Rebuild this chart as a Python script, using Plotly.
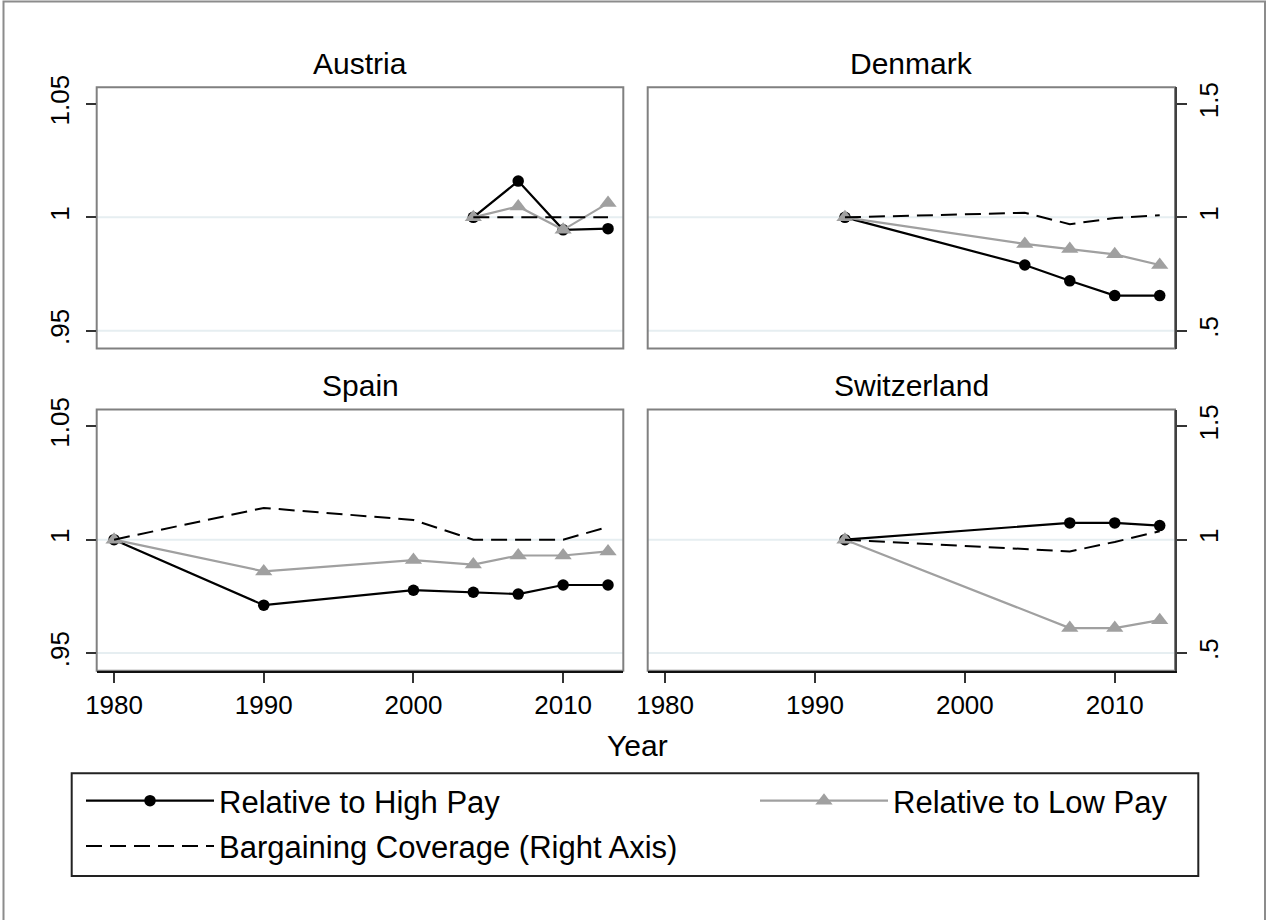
import plotly.graph_objects as go

# ---------------- data ----------------
countries = ["Austria", "Denmark", "Spain", "Switzerland"]

years_austria = [2004, 2007, 2010, 2013]
high_austria = [1.0, 1.016, 0.9945, 0.995]
low_austria = [1.0, 1.0048, 0.9945, 1.0063]
barg_austria = [1.0, 1.0, 1.0, 1.0]

years_denmark = [1992, 2004, 2007, 2010, 2013]
high_denmark = [1.0, 0.979, 0.972, 0.9655, 0.9655]
low_denmark = [1.0, 0.9883, 0.986, 0.9837, 0.979]
barg_denmark = [1.0, 1.02, 0.97, 0.997, 1.009]

years_spain = [1980, 1990, 2000, 2004, 2007, 2010, 2013]
high_spain = [1.0, 0.9711, 0.9777, 0.9768, 0.976, 0.980, 0.980]
low_spain = [1.0, 0.986, 0.991, 0.989, 0.993, 0.993, 0.9948]
barg_spain = [1.0, 1.14, 1.087, 1.0, 1.0, 1.0, 1.056]

years_switzerland = [1992, 2007, 2010, 2013]
high_switzerland = [1.0, 1.0074, 1.0074, 1.0062]
low_switzerland = [1.0, 0.961, 0.961, 0.9645]
barg_switzerland = [1.0, 0.948, 0.99, 1.037]

x_ticks = [1980, 1990, 2000, 2010]
left_ticks = [0.95, 1.0, 1.05]
left_ticktext = [".95", "1", "1.05"]
right_ticks = [0.5, 1.0, 1.5]
right_ticktext = [".5", "1", "1.5"]
grid_levels = [0.95, 1.0]

series_names = ["Relative to High Pay", "Relative to Low Pay",
                "Bargaining Coverage (Right Axis)"]

panel_data = {
    "Austria": (years_austria, high_austria, low_austria, barg_austria),
    "Denmark": (years_denmark, high_denmark, low_denmark, barg_denmark),
    "Spain": (years_spain, high_spain, low_spain, barg_spain),
    "Switzerland": (years_switzerland, high_switzerland, low_switzerland, barg_switzerland),
}

# ---------------- layout geometry / style ----------------
W, H = 1267, 920
FONT = "Liberation Sans, Arial, Helvetica, sans-serif"
col_dom = [[96.7 / W, 623.3 / W], [647.7 / W, 1175 / W]]
row_dom = [[1 - 348.5 / H, 1 - 87.3 / H], [1 - 670.8 / H, 1 - 409.6 / H]]
x_range = [1978.84, 2014.02]
y_range = [0.94215, 1.05737]
y2_range = [1 + 10 * (y_range[0] - 1), 1 + 10 * (y_range[1] - 1)]

BLACK = "#000000"
GRAY = "#A0A0A0"
FRAME = "#808080"
GRIDC = "#E6EEF1"
TICKF = 26

fig = go.Figure()
layout = dict(
    width=W, height=H,
    margin=dict(l=0, r=0, t=0, b=0),
    paper_bgcolor="white", plot_bgcolor="white",
    font=dict(family=FONT, color="black", size=TICKF),
    template="none",
    showlegend=True,
)
shapes = []
annotations = []

for i, c in enumerate(countries):
    n = i + 1
    r, col = divmod(i, 2)
    sfx = "" if n == 1 else str(n)
    xa, ya, ya2 = f"x{sfx}", f"y{sfx}", f"y{n + 4}"
    yrs, hi, lo, bg = panel_data[c]
    show = (i == 0)
    fig.add_trace(go.Scatter(
        x=yrs, y=hi, xaxis=xa, yaxis=ya, name=series_names[0], legendgroup="hi",
        legend="legend", showlegend=show, mode="lines+markers",
        line=dict(color=BLACK, width=2.2),
        marker=dict(symbol="circle", size=11.5, color=BLACK)))
    fig.add_trace(go.Scatter(
        x=yrs, y=lo, xaxis=xa, yaxis=ya, name=series_names[1], legendgroup="lo",
        legend="legend2", showlegend=show, mode="lines+markers",
        line=dict(color=GRAY, width=2.2),
        marker=dict(symbol="triangle-up", size=15, color=GRAY)))
    fig.add_trace(go.Scatter(
        x=yrs, y=bg, xaxis=xa, yaxis=ya2, name=series_names[2], legendgroup="bg",
        legend="legend", showlegend=show, mode="lines",
        line=dict(color=BLACK, width=2, dash="16px,8px")))

    bottom = (r == 1)
    layout[f"xaxis{sfx}"] = dict(
        domain=col_dom[col], anchor=ya, range=x_range, automargin=False,
        tickvals=x_ticks, ticks="outside" if bottom else "",
        ticklen=10, tickwidth=1.5, tickcolor="#333333",
        showticklabels=bottom, tickfont=dict(size=TICKF, family=FONT),
        showline=bottom, linecolor="#111111", linewidth=2,
        showgrid=False, zeroline=False, fixedrange=True)
    left = (col == 0)
    layout[f"yaxis{sfx}"] = dict(
        domain=row_dom[r], anchor=xa, range=y_range, automargin=False,
        tickvals=left_ticks, ticktext=left_ticktext, tickangle=-90,
        ticks="outside" if left else "", ticklen=10, tickwidth=1.5, tickcolor="#333333",
        showticklabels=left, tickfont=dict(size=TICKF, family=FONT),
        ticklabelstandoff=6,
        showline=False, showgrid=False, zeroline=False, fixedrange=True)
    layout[f"yaxis{n + 4}"] = dict(
        overlaying=ya, anchor=xa, side="right", range=y2_range, automargin=False,
        visible=not left,
        tickvals=right_ticks, ticktext=right_ticktext, tickangle=-90,
        ticks="outside", ticklen=10, tickwidth=1.5, tickcolor="#333333",
        showticklabels=True, tickfont=dict(size=TICKF, family=FONT),
        showline=True, linecolor="#404040", linewidth=2,
        showgrid=False, zeroline=False, fixedrange=True)

    for g in grid_levels:
        shapes.append(dict(type="line", xref=f"{xa} domain", yref=ya,
                           x0=0, x1=1, y0=g, y1=g, layer="below",
                           line=dict(color=GRIDC, width=2)))
    shapes.append(dict(type="rect", xref=f"{xa} domain", yref=f"{ya} domain",
                       x0=0, x1=1, y0=0, y1=1, layer="below",
                       line=dict(color=FRAME, width=2)))
    annotations.append(dict(
        text=c, xref="paper", yref="paper",
        x=sum(col_dom[col]) / 2, y=row_dom[r][1] + 24 / H,
        xanchor="center", yanchor="middle", showarrow=False,
        font=dict(size=30, family=FONT, color="black")))

annotations.append(dict(
    text="Year", xref="paper", yref="paper", x=637 / W, y=1 - 745 / H,
    xanchor="center", yanchor="middle", showarrow=False,
    font=dict(size=30, family=FONT, color="black")))

# outer border of the graph region
shapes.append(dict(type="rect", xref="paper", yref="paper",
                   x0=3.5 / W, x1=1 - 2 / W, y0=-0.01, y1=1 - 1.5 / H,
                   layer="below", line=dict(color="#8C8C8C", width=2)))
# legend frame
shapes.append(dict(type="rect", xref="paper", yref="paper",
                   x0=71.7 / W, x1=1198.3 / W, y0=1 - 876 / H, y1=1 - 773.3 / H,
                   layer="below", line=dict(color="#222222", width=2)))

layout["shapes"] = shapes
layout["annotations"] = annotations
legend_common = dict(
    orientation="v", xanchor="left", yanchor="top",
    borderwidth=0, bgcolor="rgba(0,0,0,0)", tracegroupgap=2,
    font=dict(size=31, family=FONT, color="black"),
    itemwidth=128, itemclick=False, itemdoubleclick=False,
)
layout["legend"] = dict(x=81 / W, y=1 - 774 / H, **legend_common)
layout["legend2"] = dict(x=755 / W, y=1 - 774 / H, **legend_common)

fig.update_layout(**layout)
fig.write_html("out.html", config={"displayModeBar": False},
               post_script="document.body.style.margin='0';")
